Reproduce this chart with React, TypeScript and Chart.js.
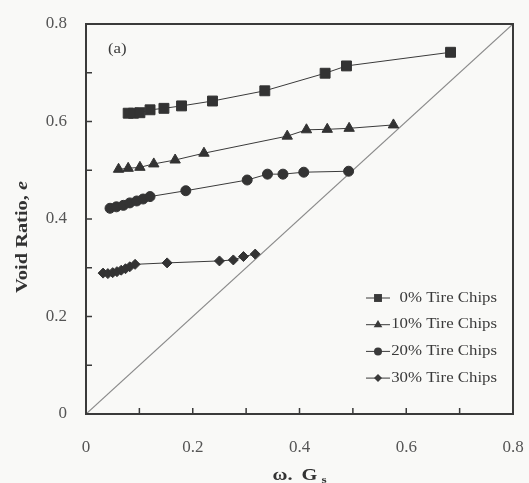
import React, { useEffect, useRef } from 'react';
import { Chart, registerables } from 'chart.js';

Chart.register(...registerables);

// Void ratio e against w·Gs for sand / tire-chip mixtures
const seriesLabels = ['0% Tire Chips', '10% Tire Chips', '20% Tire Chips', '30% Tire Chips'];

const chips0W = [0.079, 0.089, 0.101, 0.120, 0.146, 0.179, 0.237, 0.335, 0.448, 0.488, 0.683];
const chips0E = [0.617, 0.617, 0.618, 0.624, 0.627, 0.632, 0.642, 0.663, 0.699, 0.714, 0.742];

const chips10W = [0.061, 0.079, 0.101, 0.127, 0.167, 0.221, 0.377, 0.413, 0.452, 0.493, 0.576];
const chips10E = [0.502, 0.504, 0.506, 0.513, 0.521, 0.535, 0.570, 0.583, 0.584, 0.586, 0.593];

const chips20W = [0.045, 0.057, 0.070, 0.082, 0.095, 0.107, 0.120, 0.187, 0.302, 0.340, 0.369, 0.408, 0.492];
const chips20E = [0.422, 0.425, 0.428, 0.433, 0.437, 0.441, 0.446, 0.458, 0.480, 0.492, 0.492, 0.496, 0.498];

const chips30W = [0.032, 0.041, 0.050, 0.058, 0.066, 0.074, 0.082, 0.092, 0.152, 0.250, 0.276, 0.295, 0.317];
const chips30E = [0.289, 0.288, 0.290, 0.292, 0.295, 0.298, 0.302, 0.307, 0.310, 0.314, 0.316, 0.323, 0.328];

// Saturation line e = w·Gs
const lineW = [0, 0.8];
const lineE = [0, 0.8];

const majorTickLabels = ['0', '0.2', '0.4', '0.6', '0.8'];
const tickValues = [0, 0.1, 0.2, 0.3, 0.4, 0.5, 0.6, 0.7, 0.8];

const panelLabel = '(a)';
const xTitleParts = ['ω.', 'G', 's'];
const yTitleParts = ['Void Ratio, ', 'e'];

const markerStyles = ['rect', 'triangle', 'circle', 'rectRot'] as const;
const markerRadii = [7, 6, 5, 5];

const ink = '#3a3a3a';
const serif = "'Liberation Serif', 'DejaVu Serif', serif";
const stretch = 1.2;

const toPoints = (xs: number[], ys: number[]) => xs.map((x, i) => ({ x, y: ys[i] }));

function drawMarker(ctx: CanvasRenderingContext2D, style: string, x: number, y: number, r: number) {
  ctx.beginPath();
  if (style === 'rect') {
    const s = Math.SQRT1_2 * r;
    ctx.rect(x - s, y - s, 2 * s, 2 * s);
  } else if (style === 'triangle') {
    ctx.moveTo(x, y - r);
    ctx.lineTo(x + r * 0.9, y + r * 0.55);
    ctx.lineTo(x - r * 0.9, y + r * 0.55);
    ctx.closePath();
  } else if (style === 'circle') {
    ctx.arc(x, y, r, 0, Math.PI * 2);
  } else {
    ctx.moveTo(x - r, y);
    ctx.lineTo(x, y - r);
    ctx.lineTo(x + r, y);
    ctx.lineTo(x, y + r);
    ctx.closePath();
  }
  ctx.fill();
}

// text drawn slightly wider than the font's natural width
function wideText(ctx: CanvasRenderingContext2D, text: string, x: number, y: number, align: CanvasTextAlign) {
  ctx.save();
  ctx.translate(x, y);
  ctx.scale(stretch, 1);
  ctx.textAlign = align;
  ctx.fillText(text, 0, 0);
  ctx.restore();
}

const framePlugin = {
  id: 'frameAndLegend',
  afterDraw(chart: any) {
    const { ctx, chartArea } = chart;
    const { left, right, top, bottom } = chartArea;
    const xs = chart.scales.x;
    const ys = chart.scales.y;
    ctx.save();

    // inward tick marks on the bottom and left axes
    ctx.strokeStyle = ink;
    ctx.lineWidth = 1.5;
    ctx.beginPath();
    tickValues.forEach((v) => {
      const px = xs.getPixelForValue(v);
      ctx.moveTo(px, bottom);
      ctx.lineTo(px, bottom - 6);
      const py = ys.getPixelForValue(v);
      ctx.moveTo(left, py);
      ctx.lineTo(left + 6, py);
    });
    ctx.stroke();

    // plot frame
    ctx.lineWidth = 2;
    ctx.strokeRect(left, top, right - left, bottom - top);

    ctx.fillStyle = ink;
    ctx.textBaseline = 'middle';

    // panel label
    ctx.font = `14px ${serif}`;
    wideText(ctx, panelLabel, left + 22, top + 25, 'left');

    // legend
    ctx.font = `14px ${serif}`;
    seriesLabels.forEach((label, i) => {
      const y = bottom - 116 + i * 26.7;
      ctx.strokeStyle = ink;
      ctx.lineWidth = 1;
      ctx.beginPath();
      ctx.moveTo(right - 147, y);
      ctx.lineTo(right - 123, y);
      ctx.stroke();
      drawMarker(ctx, markerStyles[i], right - 135, y, markerRadii[i] * 0.8);
      wideText(ctx, label, right - 16, y, 'right');
    });

    // x axis title: ω. Gs with subscript s
    const cx = (left + right) / 2;
    ctx.fillStyle = '#333';
    ctx.textBaseline = 'alphabetic';
    ctx.font = `bold 17px ${serif}`;
    wideText(ctx, xTitleParts[0], cx - 27, 480, 'left');
    wideText(ctx, xTitleParts[1], cx + 2, 480, 'left');
    ctx.font = `bold 11px ${serif}`;
    wideText(ctx, xTitleParts[2], cx + 22, 483, 'left');

    // y axis title, rotated, with italic e
    ctx.save();
    ctx.translate(27, top + 213);
    ctx.rotate(-Math.PI / 2);
    ctx.scale(stretch, 1);
    ctx.font = `bold 17px ${serif}`;
    const w1 = ctx.measureText(yTitleParts[0]).width;
    ctx.font = `italic bold 17px ${serif}`;
    const w2 = ctx.measureText(yTitleParts[1]).width;
    const start = -(w1 + w2) / 2;
    ctx.textAlign = 'left';
    ctx.font = `bold 17px ${serif}`;
    ctx.fillText(yTitleParts[0], start, 0);
    ctx.font = `italic bold 17px ${serif}`;
    ctx.fillText(yTitleParts[1], start + w1, 0);
    ctx.restore();

    ctx.restore();
  },
};

export default function App() {
  const canvasRef = useRef<HTMLCanvasElement>(null);

  useEffect(() => {
    const canvas = canvasRef.current;
    if (!canvas) return;

    const series = [
      toPoints(chips0W, chips0E),
      toPoints(chips10W, chips10E),
      toPoints(chips20W, chips20E),
      toPoints(chips30W, chips30E),
    ];

    const datasets: any[] = series.map((data, i) => ({
      label: seriesLabels[i],
      data,
      borderColor: ink,
      borderWidth: 1,
      pointStyle: markerStyles[i],
      pointRadius: markerRadii[i],
      pointBackgroundColor: '#333',
      pointBorderColor: '#333',
      pointBorderWidth: 1,
      showLine: true,
      tension: 0,
    }));
    datasets.push({
      label: 'e = w·Gs',
      data: toPoints(lineW, lineE),
      borderColor: '#8a8a8a',
      borderWidth: 1.2,
      pointRadius: 0,
      showLine: true,
    });

    const tickCallback = (value: any) => {
      const idx = Math.round(Number(value) * 10);
      return idx % 2 === 0 ? majorTickLabels[idx / 2] : '';
    };

    const chart = new Chart(canvas, {
      type: 'scatter',
      data: { datasets },
      plugins: [framePlugin],
      options: {
        responsive: false,
        animation: false,
        devicePixelRatio: 1,
        layout: { padding: { top: 24, right: 16, left: 0, bottom: 0 } },
        plugins: { legend: { display: false }, tooltip: { enabled: false } },
        scales: {
          x: {
            type: 'linear',
            min: 0,
            max: 0.8,
            afterBuildTicks: (s: any) => {
              s.ticks = tickValues.map((value) => ({ value }));
            },
            afterFit: (s: any) => {
              s.height = 69;
              s.paddingLeft = 0;
              s.paddingRight = 0;
            },
            grid: { display: false, drawTicks: false },
            border: { display: false },
            ticks: {
              autoSkip: false,
              maxRotation: 0,
              padding: 23,
              color: '#555',
              font: { family: serif, size: 17 },
              callback: tickCallback,
            },
          },
          y: {
            type: 'linear',
            min: 0,
            max: 0.8,
            afterBuildTicks: (s: any) => {
              s.ticks = tickValues.map((value) => ({ value }));
            },
            afterFit: (s: any) => {
              s.width = 86;
              s.paddingTop = 0;
              s.paddingBottom = 0;
            },
            grid: { display: false, drawTicks: false },
            border: { display: false },
            ticks: {
              autoSkip: false,
              padding: 19,
              color: '#555',
              font: { family: serif, size: 17 },
              callback: tickCallback,
            },
          },
        },
      } as any,
    });

    return () => chart.destroy();
  }, []);

  return (
    <div style={{ position: 'fixed', left: 0, top: 0, width: 529, height: 483, background: '#f9f9f7' }}>
      <canvas ref={canvasRef} width={529} height={483} style={{ display: 'block' }} />
    </div>
  );
}
